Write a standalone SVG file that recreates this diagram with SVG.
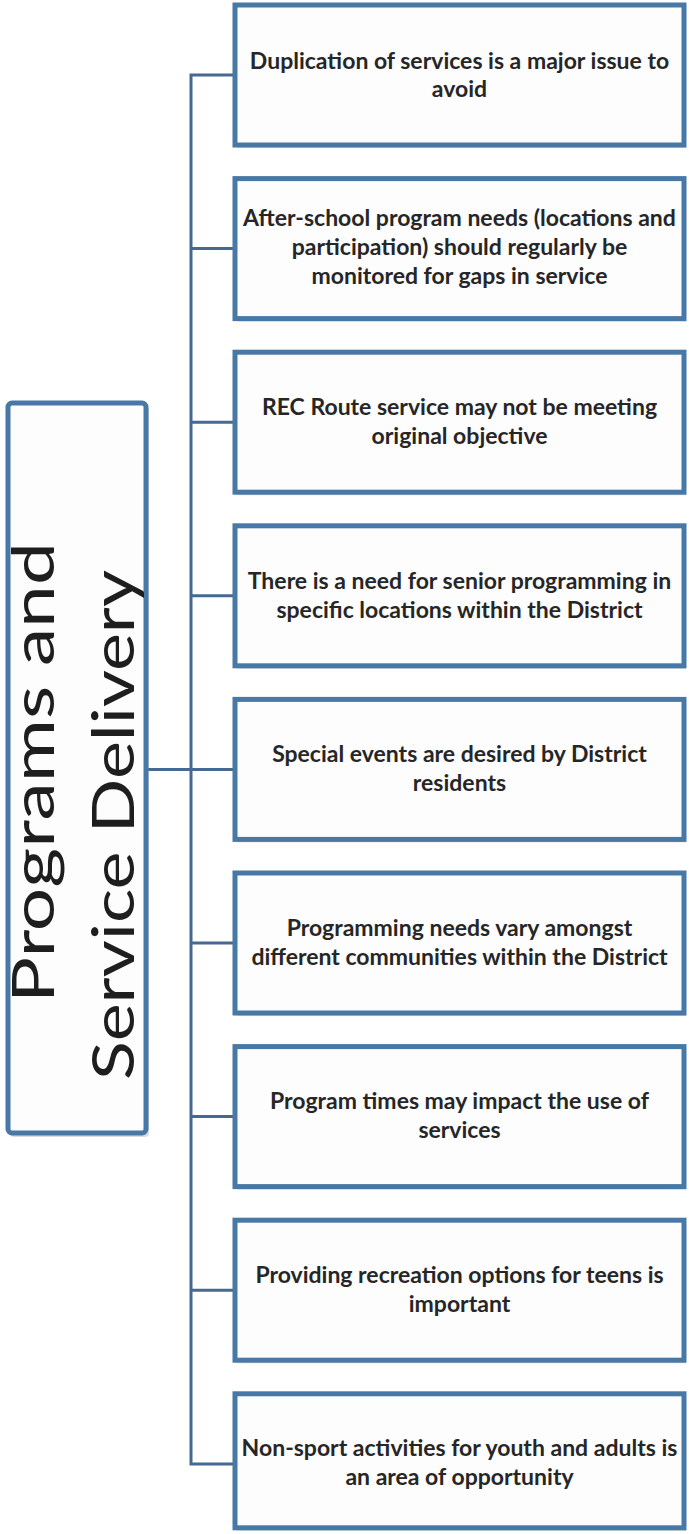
<svg xmlns="http://www.w3.org/2000/svg" width="689" height="1534" viewBox="0 0 689 1534">
<style>
.box{fill:#fdfdfe;stroke:#4878a6;stroke-width:5}
.sh{fill:#9a9a9a;opacity:.35}
.t{font-family:Lato,"Open Sans","Liberation Sans",sans-serif;font-weight:700;font-size:23px;fill:#262626;text-anchor:middle}
.big{font-family:Lato,"Open Sans","Liberation Sans",sans-serif;font-weight:400;font-size:58px;fill:#1e1e1e}
.c{stroke:#46698f;stroke-width:3;fill:none}
</style>
<rect width="689" height="1534" fill="#ffffff"/>
<g id="connectors">
<path class="c" d="M235 75 H191 V1464 H235"/>
<path class="c" d="M191 248.6 H235 M191 422.2 H235 M191 595.8 H235 M146 769.4 H235 M191 943 H235 M191 1116.6 H235 M191 1290.2 H235"/>
</g>
<g id="root">
<rect class="sh" x="10" y="406" width="139" height="731" rx="4"/>
<rect class="box" x="8" y="403" width="138" height="730" rx="4"/>
<text class="big" transform="translate(54,1003) rotate(-90)" textLength="461" lengthAdjust="spacingAndGlyphs">Programs and</text>
<text class="big" transform="translate(134,1080) rotate(-90)" textLength="510" lengthAdjust="spacingAndGlyphs">Service Delivery</text>
</g>
<g id="n1">
<rect class="sh" x="237" y="8" width="449" height="140"/>
<rect class="box" x="235" y="5" width="449" height="140"/>
<text class="t" x="459.5" y="69">Duplication of services is a major issue to</text>
<text class="t" x="459.5" y="97">avoid</text>
</g>
<g id="n2">
<rect class="sh" x="237" y="181.6" width="449" height="140"/>
<rect class="box" x="235" y="178.6" width="449" height="140"/>
<text class="t" x="459.5" y="226">After-school program needs (locations and</text>
<text class="t" x="459.5" y="255">participation) should regularly be</text>
<text class="t" x="459.5" y="284">monitored for gaps in service</text>
</g>
<g id="n3">
<rect class="sh" x="237" y="355.2" width="449" height="140"/>
<rect class="box" x="235" y="352.2" width="449" height="140"/>
<text class="t" x="459.5" y="415">REC Route service may not be meeting</text>
<text class="t" x="459.5" y="444">original objective</text>
</g>
<g id="n4">
<rect class="sh" x="237" y="528.8" width="449" height="140"/>
<rect class="box" x="235" y="525.8" width="449" height="140"/>
<text class="t" x="459.5" y="589">There is a need for senior programming in</text>
<text class="t" x="459.5" y="618">specific locations within the District</text>
</g>
<g id="n5">
<rect class="sh" x="237" y="702.4" width="449" height="140"/>
<rect class="box" x="235" y="699.4" width="449" height="140"/>
<text class="t" x="459.5" y="762">Special events are desired by District</text>
<text class="t" x="459.5" y="791">residents</text>
</g>
<g id="n6">
<rect class="sh" x="237" y="876" width="449" height="140"/>
<rect class="box" x="235" y="873" width="449" height="140"/>
<text class="t" x="459.5" y="936">Programming needs vary amongst</text>
<text class="t" x="459.5" y="965">different communities within the District</text>
</g>
<g id="n7">
<rect class="sh" x="237" y="1049.6" width="449" height="140"/>
<rect class="box" x="235" y="1046.6" width="449" height="140"/>
<text class="t" x="459.5" y="1109">Program times may impact the use of</text>
<text class="t" x="459.5" y="1138">services</text>
</g>
<g id="n8">
<rect class="sh" x="237" y="1223.2" width="449" height="140"/>
<rect class="box" x="235" y="1220.2" width="449" height="140"/>
<text class="t" x="459.5" y="1283">Providing recreation options for teens is</text>
<text class="t" x="459.5" y="1312">important</text>
</g>
<g id="n9">
<rect class="sh" x="237" y="1396.8" width="449" height="134"/>
<rect class="box" x="235" y="1393.8" width="449" height="134"/>
<text class="t" x="459.5" y="1456">Non-sport activities for youth and adults is</text>
<text class="t" x="459.5" y="1485">an area of opportunity</text>
</g>
</svg>
